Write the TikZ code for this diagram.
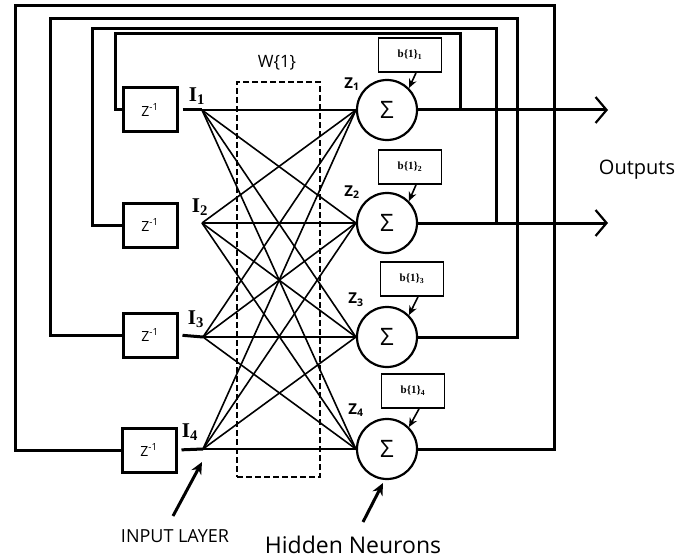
\documentclass[tikz,border=0pt]{standalone}
\usepackage{fontspec}
\setmainfont{Open Sans}
\newfontfamily\timesfont{Liberation Serif}
\usetikzlibrary{arrows.meta,positioning}

\begin{document}
\begin{tikzpicture}[x=1pt,y=-1pt,
  fb/.style={line width=3pt},
  wire/.style={line width=1.6pt},
  delaybox/.style={draw,line width=3pt,minimum width=54pt,minimum height=44pt,inner sep=0pt,font=\fontsize{14}{14}\selectfont},
  neuron/.style={draw,circle,line width=2.2pt,minimum size=60pt,inner sep=0pt,font=\fontsize{24}{24}\selectfont},
  biasbox/.style={draw,line width=1.8pt,minimum width=63pt,minimum height=34pt,inner sep=0pt,font=\timesfont\bfseries\fontsize{11}{11}\selectfont},
  inlabel/.style={font=\timesfont\bfseries\fontsize{21}{21}\selectfont},
  zlabel/.style={font=\bfseries\fontsize{15}{15}\selectfont},
  pointer/.style={line width=3pt,-{Stealth[length=12pt,width=11pt]}},
  outarrow/.style={line width=3pt,-{Straight Barb[length=11pt,width=26pt,line width=2.2pt]}}]
  \useasboundingbox (0,0) rectangle (696,559);
  % delay boxes and input points
  \node[delaybox] (d1) at (150,110) {Z\textsuperscript{-1}};
  \node[delaybox] (d2) at (150,225) {Z\textsuperscript{-1}};
  \node[delaybox] (d3) at (150,335) {Z\textsuperscript{-1}};
  \node[delaybox] (d4) at (149,450) {Z\textsuperscript{-1}};
  \coordinate (in1) at (202,110); \coordinate (in2) at (202,223);
  \coordinate (in3) at (203,337); \coordinate (in4) at (203,449);
  \node[inlabel] (i1) at (197,96) {I\textsubscript{1}};
  \node[inlabel] (i2) at (200,207) {I\textsubscript{2}};
  \node[inlabel] (i3) at (196,319) {I\textsubscript{3}};
  \node[inlabel] (i4) at (190,432) {I\textsubscript{4}};
  % weights
  \node[draw,line width=1.5pt,dash pattern=on 6pt off 3pt,minimum width=83pt,minimum height=395pt] (wbox) at (278.5,279.5) {};
  \node[font=\fontsize{17}{17}\selectfont] (wlab) at (277,63) {W\{1\}};
  % hidden neurons
  \node[neuron] (n1) at (387,110) {Σ};
  \node[neuron] (n2) at (387,223) {Σ};
  \node[neuron] (n3) at (387,337) {Σ};
  \node[neuron] (n4) at (387,449) {Σ};
  \node[zlabel] (z1) at (352,84) {Z\textsubscript{1}};
  \node[zlabel] (z2) at (352,192) {Z\textsubscript{2}};
  \node[zlabel] (z3) at (356,300) {Z\textsubscript{3}};
  \node[zlabel] (z4) at (356,410) {Z\textsubscript{4}};
  \node[biasbox] (b1) at (410,55) {b\{1\}\textsubscript{1}};
  \node[biasbox] (b2) at (410,167) {b\{1\}\textsubscript{2}};
  \node[biasbox] (b3) at (412,279) {b\{1\}\textsubscript{3}};
  \node[biasbox] (b4) at (413,391) {b\{1\}\textsubscript{4}};
  \foreach \k in {1,...,4} \draw[line width=1.6pt,-{Stealth[length=9pt,width=8pt]}] ([xshift=6pt]b\k.south) -- (n\k.45);
  % connections
  \foreach \i in {1,...,4} \foreach \j in {1,...,4} \draw[wire] (in\i) -- (n\j.west);
  \draw[fb,shorten <=4pt] (d1.east) -- (in1); \draw[fb,shorten <=4pt] (d3.east) -- (in3); \draw[fb,shorten <=4pt] (d4.east) -- (in4);
  % feedback loops
  \draw[fb] (n1.east) -| (460,34) -| (115,110) -- (d1.west);
  \draw[fb] (n2.east) -| (496,29) -| (92,225) -- (d2.west);
  \draw[fb] (n3.east) -| (517,19) -| (50,335) -- (d3.west);
  \draw[fb] (n4.east) -| (554,6) -| (15,450) -- (d4.west);
  % outputs
  \coordinate (out1) at (608,110); \coordinate (out2) at (608,223);
  \draw[outarrow] (n1.east) -- (out1); \draw[outarrow] (n2.east) -- (out2);
  \node[font=\fontsize{20}{20}\selectfont] (outlab) at (637,170) {Outputs};
  % captions
  \node[font=\fontsize{18}{18}\selectfont] (inlab) at (175,536) {INPUT LAYER};
  \node[font=\fontsize{23}{23}\selectfont] (hidlab) at (353,545) {Hidden Neurons};
  \coordinate (intail) at (173,516); \coordinate (intip) at (202,462);
  \coordinate (hidtail) at (363,522); \coordinate (hidtip) at (383,483);
  \draw[pointer] (intail) -- (intip); \draw[pointer] (hidtail) -- (hidtip);
\end{tikzpicture}
\end{document}
